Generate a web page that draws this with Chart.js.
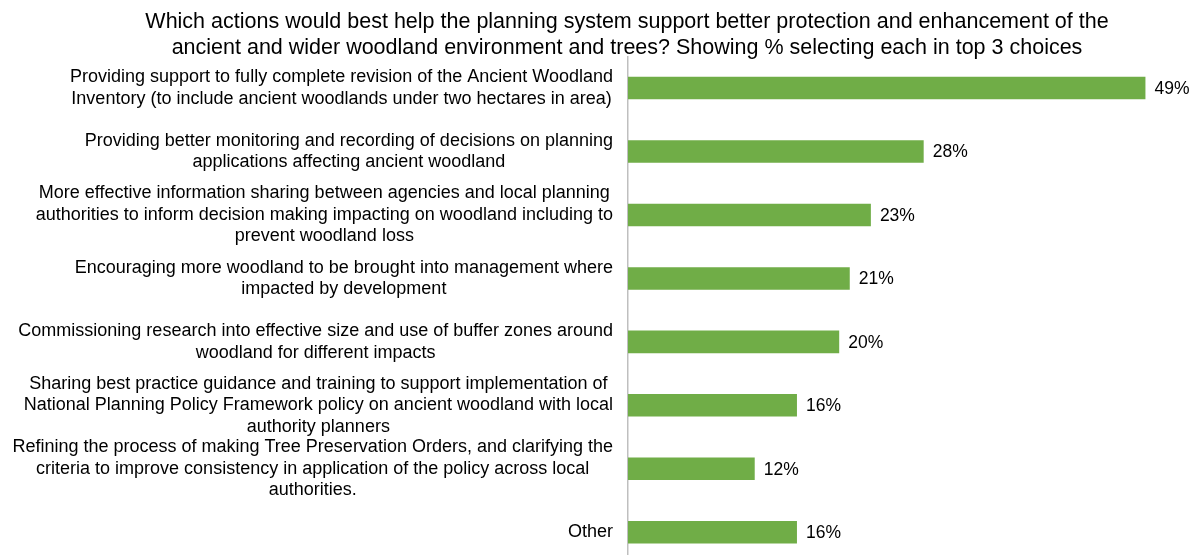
<!DOCTYPE html>
<html>
<head>
<meta charset="utf-8">
<script src="https://cdn.jsdelivr.net/npm/chart.js@4.4.1/dist/chart.umd.min.js"></script>
<style>
  html, body { margin: 0; padding: 0; background: #fff; overflow: hidden; }
  /* plot runs a little past the bottom edge, so the last row sits low */
  #wrap { width: 1196px; height: 564px; position: relative; }
</style>
</head>
<body>
<div id="wrap"><canvas id="woodlandChart"></canvas></div>
<script>
// Survey answers, each label already split into the lines it wraps to
const actionLabels = [
    ['Providing support to fully complete revision of the Ancient Woodland', 'Inventory (to include ancient woodlands under two hectares in area)'],
    ['Providing better monitoring and recording of decisions on planning', 'applications affecting ancient woodland'],
    ['More effective information sharing between agencies and local planning', 'authorities to inform decision making impacting on woodland including to', 'prevent woodland loss'],
    ['Encouraging more woodland to be brought into management where', 'impacted by development'],
    ['Commissioning research into effective size and use of buffer zones around', 'woodland for different impacts'],
    ['Sharing best practice guidance and training to support implementation of', 'National Planning Policy Framework policy on ancient woodland with local', 'authority planners'],
    ['Refining the process of making Tree Preservation Orders, and clarifying the', 'criteria to improve consistency in application of the policy across local', 'authorities.'],
    ['Other']
];
const topThreeShare = [49, 28, 23, 21, 20, 16, 12, 16];
const titleLines = [
    'Which actions would best help the planning system support better protection and enhancement of the',
    'ancient and wider woodland environment and trees? Showing % selecting each in top 3 choices'
];

const FONT = '"Liberation Sans", Arial, sans-serif';
const BAR_GREEN = '#70AD47';

// Category labels: each block is right-aligned to the axis, lines centred within the block
const blockLabels = {
    id: 'blockLabels',
    afterDraw(chart) {
        const { ctx, chartArea } = chart;
        const yScale = chart.scales.y;
        const lineH = 21.5;
        ctx.save();
        ctx.font = '18px ' + FONT;
        ctx.fillStyle = '#000';
        ctx.textAlign = 'center';
        ctx.textBaseline = 'middle';
        const right = chartArea.left - 15;
        actionLabels.forEach((lines, i) => {
            const widest = Math.max(...lines.map(l => ctx.measureText(l).width));
            const cx = right - widest / 2;
            const cy = yScale.getPixelForValue(i);
            const top = cy - (lines.length - 1) * lineH / 2;
            lines.forEach((l, j) => ctx.fillText(l, cx, top + j * lineH));
        });
        ctx.restore();
    }
};

// Percent labels just past the end of each bar
const valueLabels = {
    id: 'valueLabels',
    afterDatasetsDraw(chart) {
        const { ctx } = chart;
        const meta = chart.getDatasetMeta(0);
        ctx.save();
        ctx.font = '17.5px ' + FONT;
        ctx.fillStyle = '#000';
        ctx.textAlign = 'left';
        ctx.textBaseline = 'middle';
        meta.data.forEach((bar, i) => {
            ctx.fillText(topThreeShare[i] + '%', bar.x + 9, bar.y + 1);
        });
        ctx.restore();
    }
};

const ctx = document.getElementById('woodlandChart').getContext('2d');
new Chart(ctx, {
    type: 'bar',
    data: {
        labels: actionLabels.map(l => l.join(' ')),
        datasets: [{
            data: topThreeShare,
            backgroundColor: BAR_GREEN,
            borderWidth: 0,
            barPercentage: 0.355,
            categoryPercentage: 1
        }]
    },
    options: {
        indexAxis: 'y',
        responsive: true,
        maintainAspectRatio: false,
        animation: false,
        layout: {
            padding: { left: 98, right: 40, top: 0, bottom: 0 }
        },
        plugins: {
            legend: { display: false },
            tooltip: { enabled: false },
            title: {
                display: true,
                text: titleLines,
                color: '#000',
                font: { family: FONT, size: 21.5, weight: 'normal', lineHeight: 1.17 },
                padding: { top: 10, bottom: -4 }
            }
        },
        scales: {
            x: {
                display: false,
                min: 0,
                max: 50
            },
            y: {
                ticks: { display: false },
                grid: { display: false },
                border: { display: true, color: '#BFBFBF', width: 1.5 },
                afterFit(scale) {
                    scale.width = 530;
                }
            }
        }
    },
    plugins: [blockLabels, valueLabels]
});
</script>
</body>
</html>
